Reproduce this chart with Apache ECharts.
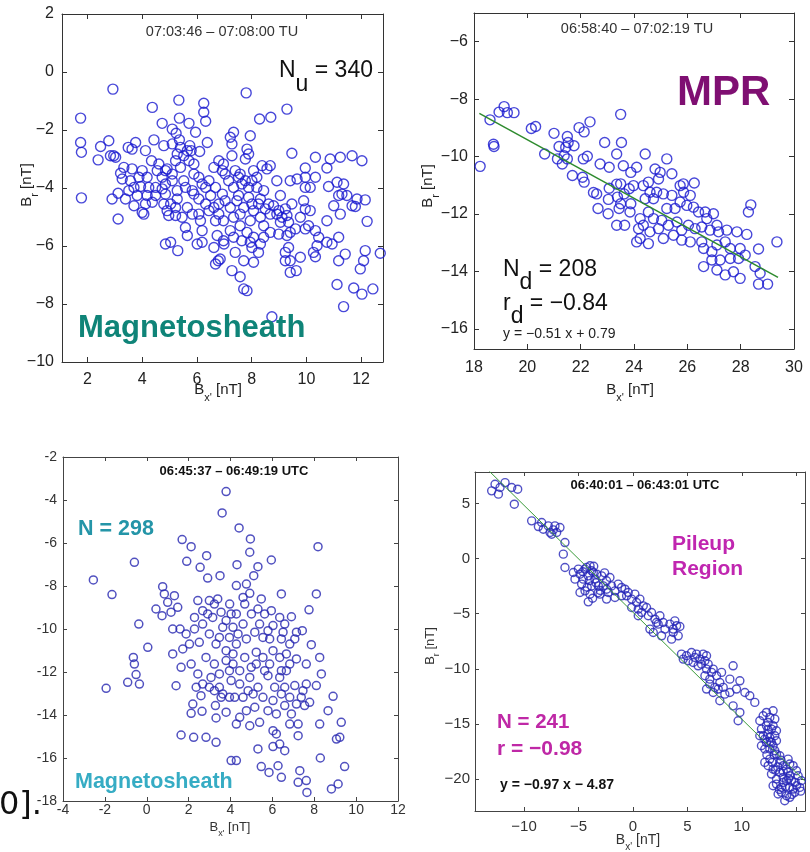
<!DOCTYPE html>
<html>
<head>
<meta charset="utf-8">
<script src="https://cdn.jsdelivr.net/npm/echarts@6/dist/echarts.min.js"></script>
<style>
  html, body { margin: 0; padding: 0; background: #ffffff; }
  #chart { width: 810px; height: 852px; }
</style>
</head>
<body>
<div id="chart"></div>
<script>
// ---- Measurements: [Bx', Br] in nT ----

// Magnetosheath, 07:03:46 - 07:08:00 TU
const sheathOut = [
  [2.93,-0.59],[1.75,-1.59],[1.75,-2.43],[1.78,-2.77],[1.78,-4.34],[4.37,-1.22],[5.34,-0.97],[6.25,-1.08],[6.25,-1.39],[6.32,-1.70],
  [4.73,-1.77],[5.36,-1.59],[5.71,-1.77],[5.10,-1.97],[5.24,-2.11],[5.95,-2.08],[5.36,-2.34],[5.74,-2.54],[5.79,-2.71],[6.38,-2.43],
  [6.10,-2.74],[2.48,-2.57],[2.78,-2.37],[2.39,-3.03],[2.84,-2.89],[2.96,-2.89],[3.03,-2.94],[3.49,-2.60],[3.76,-2.43],[3.63,-2.66],
  [4.12,-2.71],[4.43,-2.34],[4.79,-2.54],[4.34,-3.06],[4.61,-3.17],[3.33,-3.29],[3.63,-3.34],[3.21,-3.49],[3.27,-3.69],[3.57,-3.75],
  [3.70,-3.98],[3.94,-3.95],[4.24,-3.98],[4.18,-3.63],[4.55,-3.40],[4.73,-3.63],[4.91,-3.34],[5.10,-3.52],[4.85,-3.86],[5.22,-3.06],
  [5.40,-3.29],[5.52,-2.89],[5.28,-2.83],[5.71,-3.06],[5.89,-3.17],[5.89,-3.52],[5.52,-3.75],[6.07,-3.63],[6.19,-3.86],[6.44,-3.75],
  [6.62,-3.29],[6.80,-3.06],[6.93,-3.40],[6.50,-4.26],[6.32,-4.55],[6.07,-4.38],[5.83,-4.09],[5.28,-4.09],[5.28,-4.38],[5.22,-4.67],
  [4.85,-4.21],[4.73,-4.03],[4.49,-4.26],[4.37,-4.49],[4.18,-4.26],[3.82,-4.26],[3.70,-4.61],[3.39,-4.38],[2.90,-4.38],[3.12,-4.18],
  [4.00,-4.84],[4.06,-4.90],[4.91,-4.78],[4.97,-4.95],[5.22,-4.95],[5.65,-4.67],[6.07,-4.90],[6.44,-4.78],[6.80,-4.90],[6.68,-5.13],
  [6.13,-5.13],[3.12,-5.07],[5.58,-5.36],[5.65,-5.64],[6.19,-5.47],[6.74,-5.64],[6.19,-5.87],[6.01,-5.93],[4.85,-5.93],[5.04,-5.87],
  [5.30,-6.16],[6.62,-6.05],[6.78,-6.51],[6.68,-6.62],[6.99,-5.93],[6.68,-3.98],[6.93,-4.21],[6.80,-4.55],[5.83,-4.90],[5.46,-5.01],
  [6.62,-4.67],[6.32,-3.98],[5.89,-4.21],[5.58,-3.98],[5.10,-3.75],[4.85,-3.40],[5.40,-2.60],[5.10,-2.48],[5.65,-2.71],[4.00,-3.40],
  [3.88,-3.63],[3.51,-4.09],[4.49,-3.98],[4.12,-4.55],[4.79,-4.55],[5.04,-4.55],
  [7.80,-0.72],[8.29,-1.62],[8.70,-1.56],[9.29,-1.28],[7.22,-2.25],[7.34,-2.08],[7.95,-2.20],[7.28,-2.48],[7.83,-2.66],[7.89,-2.83],
  [7.77,-3.00],[7.28,-2.89],[9.47,-2.80],[10.33,-2.94],[10.87,-3.00],[11.24,-2.94],[11.67,-2.89],[12.03,-3.06],[10.75,-3.31],[9.96,-3.31],
  [6.97,-3.17],[7.03,-3.52],[7.58,-3.52],[8.07,-3.40],[8.38,-3.23],[8.68,-3.23],[8.56,-3.34],[8.92,-3.75],[9.41,-3.75],[9.66,-3.69],
  [9.96,-3.63],[10.14,-3.98],[10.33,-3.63],[9.96,-3.98],[10.81,-3.95],[11.12,-3.80],[11.36,-3.86],[11.18,-4.26],[11.30,-4.21],[11.48,-4.26],
  [11.85,-4.38],[11.67,-4.61],[11.24,-4.90],[12.22,-5.15],[7.34,-3.98],[7.64,-3.86],[8.01,-3.75],[8.19,-3.98],[8.44,-4.09],[7.52,-4.26],
  [7.89,-4.32],[8.32,-4.38],[7.03,-4.44],[7.22,-4.67],[7.71,-4.67],[8.07,-4.78],[8.50,-4.72],[8.68,-4.90],[9.05,-4.26],[8.99,-4.78],
  [9.29,-4.95],[9.47,-4.55],[9.23,-4.72],[9.90,-4.44],[9.96,-4.72],[10.14,-4.78],[9.78,-5.01],[10.08,-5.30],[9.96,-5.41],[10.33,-5.47],
  [10.75,-5.13],[10.45,-5.70],[10.75,-5.87],[10.94,-5.93],[11.18,-5.70],[10.39,-5.99],[10.26,-6.22],[10.33,-6.37],[9.78,-6.39],[6.97,-5.13],
  [7.34,-5.01],[7.58,-5.30],[7.22,-5.47],[7.83,-5.53],[8.07,-5.70],[8.68,-5.53],[8.32,-5.93],[8.01,-6.05],[7.40,-6.22],[7.71,-6.51],
  [8.07,-6.56],[7.28,-6.85],[7.58,-7.06],[7.71,-7.48],[7.83,-7.54],[6.85,-6.45],[6.97,-5.82],[9.29,-5.64],[9.35,-6.05],[9.23,-6.22],
  [9.23,-6.51],[9.41,-6.51],[9.41,-6.91],[9.63,-6.85],[9.41,-5.53],[9.05,-5.18],[8.74,-8.44],[11.12,-7.33],[11.36,-8.09],[11.73,-7.45],
  [12.03,-7.66],[12.43,-7.48],[12.15,-6.16],[12.09,-6.51],[11.97,-6.79],[12.70,-6.25],[11.42,-6.28],[11.18,-6.51],[11.00,-4.61],[11.79,-4.64],
  [12.15,-4.41],[7.40,-3.40],[7.52,-3.63],[7.77,-3.75],[8.19,-3.63],[7.16,-3.75],[7.46,-4.44],[7.89,-3.98],[8.01,-4.55],[8.25,-4.55],
  [8.62,-4.55],[8.80,-4.61],[8.92,-4.90],[9.11,-5.01],[9.35,-5.18],[8.32,-5.01],[7.95,-5.13],[7.58,-4.90],[7.34,-5.70],[7.64,-5.82],
  [7.95,-5.87],[8.44,-5.70],[8.25,-6.22],[8.44,-5.30],[9.60,-5.41],[8.99,-5.59]
];

// Magnetic pileup region (MPR), 06:58:40 - 07:02:19 TU
const mprDown = [
  [18.23,-10.34],[18.60,-8.72],[18.73,-9.57],[18.75,-9.65],[18.94,-8.45],[19.13,-8.26],[19.25,-8.47],[19.50,-8.47],[20.15,-9.02],[20.31,-8.95],
  [20.65,-9.91],[21.00,-9.19],[21.19,-9.65],[21.13,-10.08],[21.31,-10.26],[21.38,-9.97],[21.50,-9.30],[21.53,-9.51],[21.44,-9.68],[21.75,-9.62],
  [21.50,-10.08],[21.69,-10.66],[21.94,-8.99],[22.13,-9.14],[22.35,-8.79],[22.10,-10.08],[22.25,-9.99],[22.07,-10.72],[22.13,-10.89],[22.60,-11.30],
  [22.73,-10.26],[22.90,-9.51],[23.07,-10.37],[23.07,-11.10],[22.65,-11.81],[23.03,-11.99],[23.44,-11.81],[23.50,-8.53],[23.53,-9.51],[23.35,-9.91],
  [23.60,-10.32],[23.50,-10.95],[23.38,-11.41],[23.63,-11.30],[23.50,-11.64],[23.35,-12.39],[23.65,-12.39],[23.88,-10.55],[23.82,-11.12],[23.88,-11.64],
  [24.42,-9.91],[25.23,-10.08],[25.42,-10.60],[24.10,-10.37],[23.98,-11.01],[24.35,-11.01],[24.54,-10.89],[24.79,-10.43],[24.98,-10.55],[24.92,-10.78],
  [24.60,-11.24],[24.85,-11.24],[24.73,-11.47],[24.42,-11.47],[25.10,-11.30],[25.42,-11.35],[25.73,-11.01],[25.85,-10.95],[26.26,-10.92],[26.11,-11.35],
  [25.86,-11.24],[25.73,-11.58],[25.54,-11.81],[25.23,-11.81],[25.98,-11.70],[26.23,-11.76],[26.42,-11.93],[26.67,-11.93],[26.98,-11.99],[23.85,-11.93],
  [24.23,-12.16],[24.54,-11.93],[24.73,-12.16],[25.04,-12.22],[24.35,-12.39],[24.17,-12.51],[24.60,-12.62],[24.92,-12.51],[25.29,-12.39],[25.61,-12.28],
  [25.79,-12.56],[26.04,-12.39],[24.23,-12.85],[24.54,-13.03],[25.10,-12.85],[25.48,-12.74],[25.79,-12.91],[26.11,-12.97],[26.29,-12.51],[26.54,-12.45],
  [26.73,-12.16],[26.85,-12.56],[27.11,-12.39],[27.17,-12.62],[27.48,-12.56],[27.86,-12.62],[28.23,-12.71],[26.54,-12.97],[26.61,-13.20],[26.92,-13.31],
  [27.11,-13.08],[27.42,-12.97],[27.61,-13.20],[26.92,-13.60],[27.23,-13.60],[27.61,-13.55],[27.98,-13.20],[28.17,-13.43],[28.67,-13.22],[27.92,-13.55],
  [26.61,-13.83],[27.11,-13.95],[27.42,-14.12],[27.73,-14.01],[27.98,-14.24],[28.54,-13.83],[28.73,-14.06],[28.67,-14.44],[29.01,-14.44],[29.36,-12.97],
  [28.29,-11.93],[28.38,-11.68],[24.10,-12.97],[22.48,-11.25],[23.04,-11.49],[23.35,-10.96]
];

// Magnetosheath, 06:45:37 - 06:49:19 UTC
const sheathIn = [
  [3.79,-3.61],[3.60,-4.60],[1.69,-5.84],[2.12,-6.17],[2.86,-6.59],[-0.59,-6.90],[1.91,-6.85],[2.55,-7.13],[2.91,-7.63],[3.50,-7.52],
  [-2.55,-7.72],[-1.66,-8.40],[0.76,-8.03],[0.84,-8.37],[1.32,-8.45],[1.00,-8.76],[1.48,-8.99],[0.44,-9.07],[0.73,-9.38],[1.16,-9.22],
  [1.24,-10.00],[1.59,-10.00],[1.88,-10.23],[2.28,-10.00],[2.44,-8.68],[2.99,-8.68],[3.23,-8.84],[3.39,-8.60],[2.67,-9.15],[2.28,-9.46],
  [3.15,-9.46],[3.55,-9.22],[3.79,-9.61],[2.99,-10.23],[3.47,-10.39],[3.95,-10.39],[2.51,-10.62],[2.04,-10.70],[1.72,-10.93],[1.24,-11.16],
  [0.05,-10.85],[-0.38,-9.77],[-0.64,-11.32],[-0.59,-11.63],[-0.51,-12.12],[-0.91,-12.48],[-0.35,-12.56],[-1.94,-12.76],[1.40,-12.64],[1.64,-11.78],
  [2.12,-11.63],[2.44,-12.09],[2.36,-12.71],[2.83,-11.32],[3.23,-11.63],[3.47,-12.09],[2.99,-12.71],[3.79,-11.01],[3.95,-11.94],[3.47,-12.71],
  [2.59,-13.10],[2.20,-13.49],[2.12,-13.92],[2.64,-13.83],[3.28,-13.56],[3.55,-13.18],[3.95,-13.18],[3.31,-14.14],[3.79,-13.87],[1.64,-14.93],
  [2.24,-15.04],[2.83,-15.04],[3.31,-15.27],[4.03,-16.12],[2.67,-9.77],[2.91,-9.30],[3.63,-9.92],[4.03,-9.30],[3.31,-10.70],[3.79,-11.47],
  [4.03,-12.40],[3.63,-13.02],[3.07,-12.25],[2.67,-12.56],[3.23,-12.87],
  [4.41,-5.30],[4.95,-5.81],[4.92,-6.43],[5.95,-6.79],[8.18,-6.17],[4.31,-7.01],[5.31,-7.10],[5.11,-7.52],[4.76,-7.91],[4.28,-7.98],
  [4.92,-8.34],[5.47,-8.60],[6.43,-8.37],[8.10,-8.37],[7.75,-9.11],[6.91,-9.43],[3.96,-8.84],[4.68,-8.84],[4.28,-9.30],[5.00,-9.30],
  [5.63,-9.30],[5.95,-9.15],[6.03,-9.84],[5.39,-9.77],[4.60,-9.77],[4.12,-9.92],[6.43,-10.46],[5.55,-10.39],[5.87,-10.46],[4.76,-10.46],
  [4.28,-10.70],[7.15,-10.15],[7.43,-10.08],[7.07,-10.46],[6.83,-10.70],[7.86,-10.73],[8.26,-11.32],[7.62,-11.63],[7.15,-11.39],[6.35,-11.32],
  [6.03,-11.01],[5.55,-11.32],[5.23,-11.08],[4.68,-11.32],[4.12,-11.16],[4.44,-11.94],[4.99,-11.78],[5.63,-11.94],[5.79,-12.17],[6.35,-12.25],
  [6.43,-11.94],[8.34,-12.09],[8.10,-12.63],[7.07,-12.63],[7.46,-12.87],[7.38,-13.18],[7.54,-13.56],[7.15,-13.49],[6.83,-13.18],[6.43,-13.02],
  [6.03,-13.33],[5.55,-13.18],[5.08,-13.02],[4.60,-13.18],[4.20,-13.18],[5.16,-13.64],[4.76,-13.80],[4.44,-14.11],[4.28,-14.42],[4.92,-14.50],
  [5.39,-14.34],[6.03,-14.73],[6.19,-14.88],[6.83,-14.42],[7.23,-14.96],[6.35,-15.35],[6.59,-15.66],[8.26,-14.42],[8.66,-13.80],[8.90,-13.13],
  [9.29,-14.34],[9.06,-15.12],[9.22,-15.04],[8.29,-16.00],[9.45,-16.40],[4.28,-16.12],[5.31,-15.58],[6.03,-15.47],[5.47,-16.40],[5.84,-16.67],
  [6.27,-16.36],[6.43,-16.90],[7.31,-16.59],[7.23,-17.13],[7.62,-17.05],[7.65,-17.60],[8.82,-17.44],[9.14,-17.21],[4.12,-11.63],[4.44,-12.56],
  [4.84,-12.87],[5.31,-12.71],[4.92,-12.25],[5.23,-11.63],[5.87,-11.63],[6.11,-12.71],[6.59,-12.71],[6.67,-11.94],[6.83,-11.63],[6.59,-9.77],
  [6.67,-11.16],[6.35,-9.46],[4.60,-8.53],[5.31,-9.07],[5.16,-10.15],[4.36,-10.23],[5.79,-10.08],[6.51,-10.15],[7.62,-12.56],[7.78,-13.41],
  [6.59,-13.56],[5.79,-13.80],[6.19,-13.95],[6.91,-13.95],[7.23,-14.42]
];

// Pileup region, 06:40:01 - 06:43:01 UTC
const pileupRegion = [
  [-12.97,6.14],[-12.66,6.74],[-12.20,6.44],[-12.35,5.84],[-11.74,6.89],[-11.13,6.44],[-10.58,6.29],[-10.89,4.93],[-9.30,3.42],[-8.68,2.90],
  [-8.23,2.66],[-7.77,2.96],[-7.31,2.60],[-7.46,2.21],[-6.70,2.81],[-6.24,1.45],[-6.39,0.40],[-6.24,-0.81],[-5.47,-1.27],[-5.32,-1.87],
  [-4.86,-1.42],[-4.40,-0.96],[-3.94,-0.66],[-3.79,-1.11],[-4.10,-1.57],[-4.71,-2.32],[-4.86,-3.08],[-3.94,-3.23],[-4.10,-3.93],[-3.49,-1.87],
  [-3.18,-2.48],[-2.87,-1.57],[-2.42,-2.02],[-2.42,-2.78],[-3.03,-3.23],[-1.65,-2.93],[-1.04,-2.63],[-0.43,-3.08],[-0.12,-3.68],[0.34,-3.99],
  [0.49,-5.19],[-8.38,3.27],[-7.61,2.36],[-7.00,2.36],[-7.16,2.96],
  [-5.01,-0.96],[-4.56,-1.87],[-3.64,-1.27],[-3.79,-2.48],[-3.33,-1.42],[-2.72,-2.48],[-4.40,-2.93],[-2.11,-1.72],[-1.96,-2.48],[-1.35,-2.32],
  [-0.73,-2.78],[-0.58,-3.38],[0.18,-3.23],[-0.12,-4.44],[0.49,-4.59],[-1.65,-3.53],[-1.04,-3.38],[-2.26,-3.08],[-2.42,-3.68],
  [-4.25,-0.80],[-3.60,-0.70],[-4.00,-2.00],[-3.40,-2.20],[-4.60,-1.20],[-3.00,-2.90],[-2.60,-1.30],[-4.20,-2.60],[-3.70,-3.60],[-3.20,-3.10],
  [0.64,-3.68],[0.95,-4.29],[0.80,-4.89],[1.71,-4.89],[2.02,-5.50],[2.32,-5.95],[2.48,-5.19],[1.56,-6.40],[1.87,-6.71],[3.39,-5.95],
  [4.01,-6.10],[4.31,-6.16],[3.70,-6.71],[3.55,-7.31],[4.46,-8.67],[4.92,-8.82],[5.38,-8.52],[5.84,-8.67],[6.45,-8.67],[6.76,-8.82],
  [6.15,-9.12],[5.53,-9.43],[5.99,-9.73],[6.76,-10.03],[7.22,-10.33],[7.68,-10.63],[7.06,-10.94],[7.98,-11.24],[7.52,-11.69],[6.76,-11.84],
  [7.98,-12.90],[9.20,-9.73],[8.90,-10.94],[9.82,-11.09],[9.51,-11.84],[10.28,-12.15],[10.73,-12.45],[11.19,-13.05],[8.90,-12.15],[9.20,-13.36],
  [9.82,-13.96],[9.66,-14.71],[12.26,-13.96],[12.87,-13.81],[11.65,-14.71],[12.42,-14.87],[11.80,-15.47],[12.72,-15.47],[11.96,-16.07],[12.57,-16.23],
  [13.03,-16.07],[12.26,-16.68],[12.87,-16.98],[12.11,-17.28],[13.18,-17.74],[12.57,-18.19],[13.49,-18.49],[14.25,-18.19],[14.71,-18.79],[14.10,-19.10],
  [12.72,-19.55],[13.18,-20.00],[13.79,-19.85],[14.40,-19.70],[15.17,-19.70],[15.47,-20.15],[12.87,-20.61],[13.64,-20.76],[14.40,-20.76],[15.02,-20.61],
  [13.33,-21.36],[14.10,-21.51],[14.86,-21.21],[13.79,-20.31],[14.56,-20.15],[12.11,-18.49],
  [11.96,-14.26],[12.57,-14.41],[13.03,-14.56],[12.26,-15.17],[12.87,-15.17],[13.18,-15.62],[12.42,-15.92],[12.11,-16.38],[12.72,-16.68],[13.18,-16.53],
  [12.57,-17.28],[13.03,-17.43],[13.49,-17.89],[13.79,-18.79],[14.40,-18.64],[15.02,-19.25],[13.49,-19.40],[14.25,-19.40],[13.18,-20.46],[14.10,-20.15],
  [14.71,-20.91],[15.32,-20.76],[13.64,-21.21],[14.40,-21.66],[13.94,-21.97],[12.87,-19.10],[12.42,-18.79],[11.80,-16.98],[11.65,-16.07],
  [12.40,-15.50],[12.60,-16.60],[12.95,-17.80],[12.30,-17.80],[13.30,-18.90],[13.80,-19.30],[14.00,-20.70],[14.60,-21.40],[13.45,-20.95],[14.90,-20.30],
  [13.10,-19.20],[13.60,-18.30],[12.80,-18.50],[15.40,-21.10],[14.30,-19.95],
  [4.62,-9.12],[5.08,-9.27],[5.69,-8.97],[6.30,-9.58],[6.61,-9.27],[6.91,-9.58],[7.37,-10.03],[6.61,-10.63],[7.06,-11.39],[7.83,-11.84],
  [8.14,-10.33],[7.37,-12.15],[8.44,-12.30],[8.29,-11.69],
  [1.25,-4.44],[1.41,-5.19],[2.17,-5.80],[2.78,-5.80],[2.94,-6.40],[2.63,-7.01],[3.85,-5.65],[4.16,-7.01],[3.70,-6.40]
];

// Least-squares fits quoted on the panels: y = slope * x + intercept
const mprFit = { slope: -0.51, intercept: 0.79, from: 18.2, to: 29.4 };
const pileupFit = { slope: -0.97, intercept: -4.87, from: -14.5, to: 15.8 };

// Tick labels per panel
const ticksSheathOutX = [2, 4, 6, 8, 10, 12];
const ticksSheathOutY = [-10, -8, -6, -4, -2, 0, 2];
const ticksMprX = [18, 20, 22, 24, 26, 28, 30];
const ticksMprY = [-16, -14, -12, -10, -8, -6];
const ticksSheathInX = [-4, -2, 0, 2, 4, 6, 8, 10, 12];
const ticksSheathInY = [-18, -16, -14, -12, -10, -8, -6, -4, -2];
const ticksPileupX = [-10, -5, 0, 5, 10];
const ticksPileupY = [-20, -15, -10, -5, 0, 5];

// ---- Layout ----
const FONT = 'Liberation Sans, Arial, Helvetica, sans-serif';
const MINUS = '\u2212';

const panels = [
  { grid: { left: 62, top: 14, width: 321, height: 348 },
    x: { min: 1.07, max: 12.8, step: 2, ticks: ticksSheathOutX, margin: 10 },
    y: { min: -10, max: 2, step: 2, ticks: ticksSheathOutY, margin: 8 },
    minus: MINUS, labelSize: 16, labelColor: '#222', frame: '#333', tick: 5 },
  { grid: { left: 474, top: 13, width: 320, height: 336 },
    x: { min: 18, max: 30, step: 2, ticks: ticksMprX, margin: 11 },
    y: { min: -16.7, max: -5, step: 2, ticks: ticksMprY, margin: 6 },
    minus: MINUS, labelSize: 16, labelColor: '#222', frame: '#333', tick: 5 },
  { grid: { left: 63, top: 457, width: 335, height: 344 },
    x: { min: -4, max: 12, step: 2, ticks: ticksSheathInX, margin: 2 },
    y: { min: -18, max: -2, step: 2, ticks: ticksSheathInY, margin: 6 },
    minus: '-', labelSize: 14, labelColor: '#333', frame: '#444', tick: 4 },
  { grid: { left: 475, top: 472, width: 330, height: 339 },
    x: { min: -14.5, max: 15.8, step: 5, ticks: ticksPileupX, margin: 8 },
    y: { min: -22.9, max: 7.85, step: 5, ticks: ticksPileupY, margin: 5 },
    minus: MINUS, labelSize: 15, labelColor: '#333', frame: '#444', tick: 4 }
];

function tickFormatter(list, minus) {
  return function (v) {
    const hit = list.some(function (t) { return Math.abs(t - v) < 1e-6; });
    if (!hit) return '';
    return v < 0 ? minus + String(Math.abs(v)) : String(v);
  };
}

function makeAxis(p, gi, dim, mirror) {
  const a = p[dim];
  return {
    type: 'value', gridIndex: gi,
    position: dim === 'x' ? (mirror ? 'top' : 'bottom') : (mirror ? 'right' : 'left'),
    min: a.min, max: a.max, minInterval: a.step, maxInterval: a.step,
    splitLine: { show: false },
    axisLine: { show: true, onZero: false, lineStyle: { color: p.frame, width: 1 } },
    axisTick: { show: true, inside: true, length: p.tick, lineStyle: { color: p.frame, width: 1 } },
    axisLabel: mirror ? { show: false } : {
      show: true, margin: a.margin, fontSize: p.labelSize, color: p.labelColor,
      fontFamily: FONT, formatter: tickFormatter(a.ticks, p.minus)
    },
    axisPointer: { show: false }
  };
}

const grids = [], xAxes = [], yAxes = [];
panels.forEach(function (p, i) {
  grids.push(Object.assign({ containLabel: false }, p.grid));
  xAxes.push(makeAxis(p, i, 'x', false), makeAxis(p, i, 'x', true));
  yAxes.push(makeAxis(p, i, 'y', false), makeAxis(p, i, 'y', true));
});

function scatter(i, data, color, size, width) {
  return {
    type: 'scatter', xAxisIndex: 2 * i, yAxisIndex: 2 * i, data: data,
    symbol: 'circle', symbolSize: size, silent: true,
    itemStyle: { color: 'rgba(0,0,0,0)', borderColor: color, borderWidth: width }
  };
}

function fitLine(i, fit, color, width) {
  return {
    type: 'line', xAxisIndex: 2 * i, yAxisIndex: 2 * i, silent: true, showSymbol: false,
    clip: true, z: 3,
    data: [[fit.from, fit.slope * fit.from + fit.intercept], [fit.to, fit.slope * fit.to + fit.intercept]],
    lineStyle: { color: color, width: width }
  };
}

// Text helper: rich tokens m (main) and s (subscript, pushed down by `drop`)
function label(x, y, text, size, color, opts) {
  opts = opts || {};
  const subSize = opts.subSize || size;
  const drop = opts.drop || 0;
  const weight = opts.bold ? 'bold' : 'normal';
  const family = opts.family || FONT;
  return {
    type: 'text', x: x, y: y, rotation: opts.rotate || 0, silent: true, z: 10,
    style: {
      text: text, align: opts.align || 'left', verticalAlign: 'middle',
      fill: color, fontSize: size, fontFamily: family, fontWeight: weight,
      rich: {
        m: { fontSize: size, fontFamily: family, fontWeight: weight, fill: color },
        s: { fontSize: subSize, fontFamily: family, fontWeight: weight, fill: color, padding: [2 * drop, 0, 0, 0] }
      }
    }
  };
}

const graphics = [
  // top-left panel
  label(222, 32, '07:03:46 \u2013 07:08:00 TU', 14.5, '#333', { align: 'center' }),
  label(279, 71, '{m|N}{s|u}{m| = 340}', 23, '#111', { drop: 14 }),
  label(78, 328, 'Magnetosheath', 31, '#0f8478', { bold: true }),
  label(27, 185, '{m|B}{s|r}{m| [nT]}', 15, '#222', { subSize: 11, drop: 8, align: 'center', rotate: Math.PI / 2 }),
  label(218, 390, "{m|B}{s|x'}{m| [nT]}", 15, '#222', { subSize: 11, drop: 8, align: 'center' }),
  // top-right panel
  label(637, 29, '06:58:40 \u2013 07:02:19 TU', 14.5, '#333', { align: 'center' }),
  label(677, 93, 'MPR', 42, '#7f0f72', { bold: true }),
  label(503, 270, '{m|N}{s|d}{m| = 208}', 23, '#111', { drop: 13 }),
  label(503, 304, '{m|r}{s|d}{m| = ' + MINUS + '0.84}', 23, '#111', { drop: 13 }),
  label(503, 334, 'y = ' + MINUS + '0.51 x + 0.79', 14, '#222'),
  label(428, 186, '{m|B}{s|r}{m| [nT]}', 15, '#222', { subSize: 11, drop: 8, align: 'center', rotate: Math.PI / 2 }),
  label(630, 390, "{m|B}{s|x'}{m| [nT]}", 15, '#222', { subSize: 11, drop: 8, align: 'center' }),
  // bottom-left panel
  label(234, 471, '06:45:37 \u2013 06:49:19 UTC', 13, '#111', { align: 'center', bold: true }),
  label(78, 529, 'N = 298', 21.5, '#2495a8', { bold: true }),
  label(75, 782, 'Magnetosheath', 21.5, '#36acc4', { bold: true }),
  label(230, 827, "{m|B}{s|x'}{m| [nT]}", 13, '#333', { subSize: 9, drop: 7, align: 'center' }),
  // bottom-right panel
  label(645, 485, '06:40:01 \u2013 06:43:01 UTC', 13, '#111', { align: 'center', bold: true }),
  label(672, 544, 'Pileup', 21, '#c026b0', { bold: true }),
  label(672, 569, 'Region', 21, '#c026b0', { bold: true }),
  label(497, 722, 'N = 241', 20.5, '#bf28a6', { bold: true }),
  label(497, 749, 'r = ' + MINUS + '0.98', 21, '#bf28a6', { bold: true }),
  label(500, 785, 'y = ' + MINUS + '0.97 x ' + MINUS + ' 4.87', 14, '#111', { bold: true }),
  label(430, 646, '{m|B}{s|r}{m| [nT]}', 13, '#333', { subSize: 9, drop: 7, align: 'center', rotate: Math.PI / 2 }),
  label(638, 840, "{m|B}{s|x'}{m| [nT]}", 14, '#333', { subSize: 10, drop: 7, align: 'center' }),
  // caption fragment at the lower left
  label(-1, 806, '0].', 32, '#111', { family: 'DejaVu Sans' })
];

const chart = echarts.init(document.getElementById('chart'), null, { renderer: 'canvas' });
chart.setOption({
  animation: false,
  backgroundColor: '#ffffff',
  grid: grids,
  xAxis: xAxes,
  yAxis: yAxes,
  series: [
    scatter(0, sheathOut, '#1a1ad0', 10, 1.4),
    scatter(1, mprDown, '#1a1ad0', 10, 1.4),
    fitLine(1, mprFit, '#2e8b2e', 1.5),
    scatter(2, sheathIn, '#2626b0', 8, 1.5),
    scatter(3, pileupRegion, '#2626b8', 8, 1.4),
    fitLine(3, pileupFit, '#3a9a3a', 1)
  ],
  graphic: graphics
});
</script>
</body>
</html>
